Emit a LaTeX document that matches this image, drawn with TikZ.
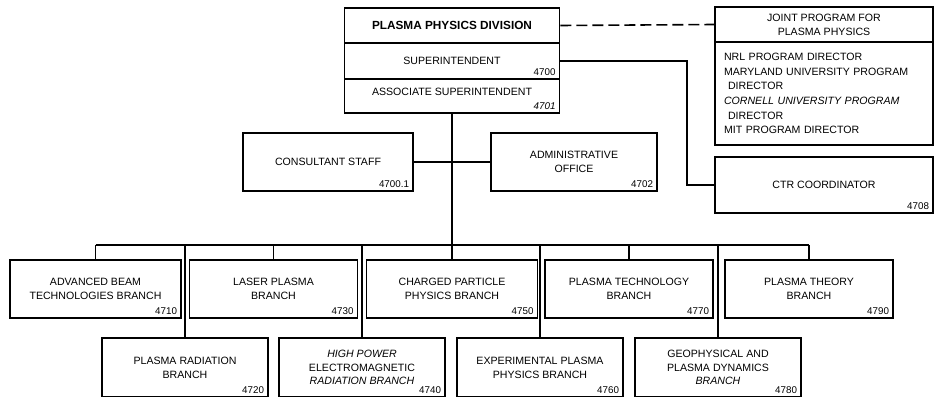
\documentclass[tikz,border=0pt]{standalone}
\usepackage{fontspec}
\setmainfont{Liberation Sans}
\begin{document}
\begin{tikzpicture}[x=1pt, y=-1pt, line width=1.6pt,
        font=\fontsize{10.6}{13.8}\selectfont,
        unit/.style={draw, minimum width=168pt, minimum height=58pt,
                     align=center, inner sep=0pt},
        sub/.style={unit, minimum width=166pt, minimum height=59pt},
        num/.style={font=\fontsize{9.8}{11}\selectfont, inner xsep=4pt, inner ysep=3pt},
        nr/.style={label={[num, anchor=south east]south east:#1}}]
      \useasboundingbox (0,0) rectangle (936,396);
      \clip (0,0) rectangle (936,396);
      % division office
      \node[unit, minimum width=215pt, minimum height=35pt,
            font=\fontsize{11.8}{13}\selectfont\bfseries] (div) at (452,25.5) {PLASMA PHYSICS DIVISION};
      \node[unit, minimum width=215pt, minimum height=36pt, nr=4700] (sup) at (452,61) {SUPERINTENDENT};
      \node[unit, minimum width=215pt, minimum height=34pt, text depth=9pt,
            nr=\textit{4701}] (assoc) at (452,96) {ASSOCIATE SUPERINTENDENT};
      % joint program and CTR
      \node[unit, minimum width=218pt, minimum height=35pt] (joint) at (824,24.5) {JOINT PROGRAM FOR\\PLASMA PHYSICS};
      \node[unit, minimum width=218pt, minimum height=103pt, text width=200pt, align=left,
            font=\fontsize{10.6}{14.6}\selectfont] (jbody) at (824,93.5)
            {NRL PROGRAM DIRECTOR\\MARYLAND UNIVERSITY PROGRAM\\\hspace*{4pt}DIRECTOR\\
             \textit{CORNELL UNIVERSITY PROGRAM}\\\hspace*{4pt}DIRECTOR\\MIT PROGRAM DIRECTOR};
      \node[unit, minimum width=218pt, minimum height=56pt, nr=4708] (ctr) at (824,185) {CTR COORDINATOR};
      % staff
      \node[unit, minimum width=170pt, nr=4700.1] (consult) at (328,162) {CONSULTANT STAFF};
      \node[unit, minimum width=166pt, nr=4702] (admin) at (574,162) {ADMINISTRATIVE\\OFFICE};
      % branches, upper row
      \node[unit, minimum width=171pt, nr=4710] (adv) at (95.5,289) {ADVANCED BEAM\\TECHNOLOGIES BRANCH};
      \node[unit, nr=4730] (laser) at (273.5,289) {LASER PLASMA\\BRANCH};
      \node[unit, minimum width=171pt, nr=4750] (charged) at (452,289) {CHARGED PARTICLE\\PHYSICS BRANCH};
      \node[unit, nr=4770] (tech) at (629,289) {PLASMA TECHNOLOGY\\BRANCH};
      \node[unit, nr=4790] (theory) at (809,289) {PLASMA THEORY\\BRANCH};
      % branches, lower row
      \node[sub, nr=4720] (rad) at (185,367.5) {PLASMA RADIATION\\BRANCH};
      \node[sub, nr=4740] (hp) at (362,367.5) {\textit{HIGH POWER}\\ELECTROMAGNETIC\\\textit{RADIATION BRANCH}};
      \node[sub, nr=4760] (exp) at (540,367.5) {EXPERIMENTAL PLASMA\\PHYSICS BRANCH};
      \node[sub, nr=4780] (geo) at (718,367.5) {GEOPHYSICAL AND\\PLASMA DYNAMICS\\\textit{BRANCH}};
      % connectors
      \draw[dash pattern=on 11pt off 5pt] (div.east) -- (joint.west);
      \coordinate (jog) at (687,0);
      \draw (sup.east) -| (jog |- ctr.west) -- (ctr.west);
      \draw (consult.east) -- (admin.west);
      \draw (assoc.south) -- (charged.north);
      \coordinate (bus) at (0,245);
      \draw (adv.north |- bus) -- (theory.north |- bus);
      \foreach \b in {adv,laser,tech,theory,rad,hp,exp,geo}
        \draw (\b.north) -- (\b.north |- bus);
    \end{tikzpicture}
\end{document}
